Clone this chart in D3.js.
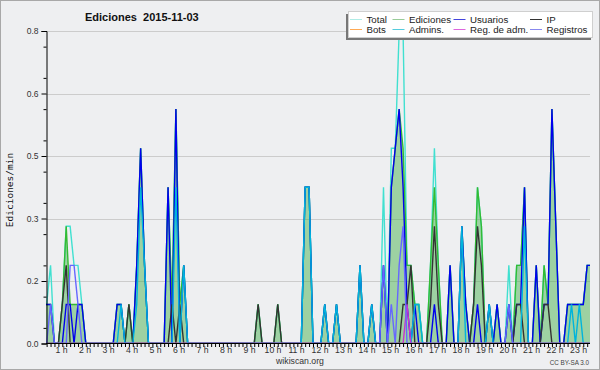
<!DOCTYPE html>
<html lang="es">
<head>
<meta charset="utf-8">
<title>Ediciones 2015-11-03</title>
<script src="https://d3js.org/d3.v7.min.js"></script>
<style>
	body { margin: 0; background: #eeeff1; }
	svg { display: block; }
	text { font-family: "Liberation Sans", Arial, sans-serif; }
</style>
</head>
<body>
<script>
// valores por tramo de 10 minutos (ediciones/min), 144 tramos = 24 h
var total = [
	0,.1,.1,.2,0,0,.1,.3,.3,.2,.2,.1,
	0,0,0,0,0,0,0,0,.1,.1,0,.1,
	0,.2,.5,.2,0,0,0,0,0,.4,.1,.6,
	.1,.2,0,0,0,0,0,0,0,0,0,0,
	0,0,0,0,0,0,0,0,.1,0,0,0,
	0,.1,0,0,0,0,0,0,.4,.4,0,0,
	0,.1,0,0,.1,0,0,0,0,0,.2,0,
	0,.1,0,0,.4,0,.5,.5,.8,.8,.2,.2,
	.1,.1,0,0,.2,.5,.2,0,0,.2,0,0,
	.3,.1,0,.1,.4,.3,0,.1,0,.1,0,0,
	.2,0,.2,.2,.4,0,0,.2,0,.2,.1,.6,
	.3,0,0,.1,.1,.1,.1,.1,.2,.2,0,0
];
var ediciones = [
	0,.1,.1,.1,0,0,.1,.3,.1,.1,.1,.1,
	0,0,0,0,0,0,0,0,.1,.1,0,.1,
	0,.2,.5,.2,0,0,0,0,0,.4,.1,.6,
	.1,.2,0,0,0,0,0,0,0,0,0,0,
	0,0,0,0,0,0,0,0,.1,0,0,0,
	0,.1,0,0,0,0,0,0,.4,.4,0,0,
	0,.1,0,0,.1,0,0,0,0,0,.2,0,
	0,.1,0,0,.2,0,.4,.5,.6,.5,.2,.2,
	.1,.1,0,0,.2,.4,.2,0,0,.2,0,0,
	.3,.1,0,.1,.4,.3,0,.1,0,.1,0,0,
	.1,0,.2,.2,.4,0,0,.2,0,.2,.1,.6,
	.3,0,0,.1,.1,.1,.1,.1,.2,.2,0,0
];
var usuarios = [
	0,.1,.1,.1,0,0,0,.1,.1,0,.1,.1,
	0,0,0,0,0,0,0,0,.1,.1,0,0,
	0,.2,.5,.2,0,0,0,0,0,.4,0,.6,
	0,.2,0,0,0,0,0,0,0,0,0,0,
	0,0,0,0,0,0,0,0,0,0,0,0,
	0,0,0,0,0,0,0,0,.4,.4,0,0,
	0,.1,0,0,.1,0,0,0,0,0,.2,0,
	0,.1,0,0,.2,0,.4,.5,.6,.4,.1,0,
	.1,0,0,0,0,.1,0,0,0,.2,0,0,
	.3,.1,0,0,.1,0,0,.1,0,.1,0,0,
	.1,0,.1,.1,.4,0,0,.2,0,.1,.1,.6,
	.3,0,0,.1,.1,.1,.1,.1,.2,.2,0,0
];
var ip = [
	0,0,0,0,0,0,.1,.2,0,0,0,0,
	0,0,0,0,0,0,0,0,0,0,0,.1,
	0,0,0,0,0,0,0,0,0,0,.1,0,
	.1,0,0,0,0,0,0,0,0,0,0,0,
	0,0,0,0,0,0,0,0,.1,0,0,0,
	0,.1,0,0,0,0,0,0,0,0,0,0,
	0,0,0,0,0,0,0,0,0,0,0,0,
	0,0,0,0,0,0,0,0,0,.1,.1,.2,
	0,0,0,0,.1,.3,.1,0,0,0,0,0,
	0,0,0,.1,.3,.2,0,0,0,0,0,0,
	0,0,.1,.1,0,0,0,0,0,.1,.1,0,
	0,0,0,0,0,0,0,0,0,0,0,0
];
var bots = [
	0,0,0,0,0,0,0,0,0,0,0,0,
	0,0,0,0,0,0,0,0,0,0,0,0,
	0,0,0,0,0,0,0,0,0,0,0,0,
	0,0,0,0,0,0,0,0,0,0,0,0,
	0,0,0,0,0,0,0,0,0,0,0,0,
	0,0,0,0,0,0,0,0,0,0,0,0,
	0,0,0,0,0,0,0,0,0,0,0,0,
	0,0,0,0,0,0,0,0,0,0,0,0,
	0,0,0,0,0,0,0,0,0,0,0,0,
	0,0,0,0,0,0,0,0,0,0,0,0,
	0,0,0,0,0,0,0,0,0,0,0,0,
	0,0,0,0,0,0,0,0,0,0,0,0
];
var admins = [
	0,0,0,0,0,0,0,0,0,0,0,0,
	0,0,0,0,0,0,0,0,0,.1,0,0,
	0,.1,.4,.2,0,0,0,0,0,0,0,.4,
	0,.2,0,0,0,0,0,0,0,0,0,0,
	0,0,0,0,0,0,0,0,0,0,0,0,
	0,0,0,0,0,0,0,0,.4,.4,0,0,
	0,.1,0,0,.1,0,0,0,0,0,.2,0,
	0,.1,0,0,0,0,0,0,0,0,0,0,
	.1,.1,0,0,0,0,0,0,0,0,0,0,
	.3,0,0,0,0,0,0,.1,0,0,0,0,
	0,0,0,0,.3,0,0,0,0,0,0,0,
	0,0,0,0,.1,0,.1,0,0,0,0,0
];
var regAdm = [
	0,0,0,0,0,0,0,0,0,0,0,0,
	0,0,0,0,0,0,0,0,0,0,0,0,
	0,0,0,0,0,0,0,0,0,0,0,0,
	0,0,0,0,0,0,0,0,0,0,0,0,
	0,0,0,0,0,0,0,0,0,0,0,0,
	0,0,0,0,0,0,0,0,0,0,0,0,
	0,0,0,0,0,0,0,0,0,0,0,0,
	0,0,0,0,0,0,0,0,0,0,.1,0,
	0,0,0,0,0,0,0,0,0,0,0,0,
	0,0,0,0,0,0,0,0,0,0,0,0,
	0,0,0,0,0,0,0,0,0,0,0,0,
	0,0,0,0,0,0,0,0,0,0,0,0
];
var registros = [
	0,0,0,.1,0,0,0,0,.2,.2,.1,0,
	0,0,0,0,0,0,0,0,0,0,0,0,
	0,0,0,0,0,0,0,0,0,0,0,0,
	0,0,0,0,0,0,0,0,0,0,0,0,
	0,0,0,0,0,0,0,0,0,0,0,0,
	0,0,0,0,0,0,0,0,0,0,0,0,
	0,0,0,0,0,0,0,0,0,0,0,0,
	0,0,0,0,.2,0,.1,0,.2,.3,0,0,
	0,0,0,0,0,0,0,0,0,0,0,0,
	0,0,0,0,0,0,0,0,0,0,0,0,
	.1,0,0,0,0,0,0,0,0,0,0,0,
	0,0,0,0,0,0,0,0,0,0,0,0
];

var seriesNames = ["Total", "Ediciones", "Usuarios", "IP", "Bots", "Admins.", "Reg. de adm.", "Registros"];
var seriesValues = [total, ediciones, usuarios, ip, bots, admins, regAdm, registros];
var lineColors = ["#40e0d0", "#33bb33", "#0000ee", "#333333", "#ff9900", "#00b4dc", "#cc33cc", "#6666ff"];
var legendColors = ["#b0ece6", "#99cc99", "#4444dd", "#333333", "#ffaa55", "#55ccdd", "#dd66dd", "#8888ee"];
var yTicks = [0, 0.16, 0.32, 0.48, 0.64, 0.8];
var hours = [1,2,3,4,5,6,7,8,9,10,11,12,13,14,15,16,17,18,19,20,21,22,23];

var w = 600;
var h = 370;
var plotL = 46, plotR = 590, plotT = 31, plotB = 343.5;
var slotMin = 10;

var svg = d3.select("body")
			.append("svg")
			.attr("width", w)
			.attr("height", h);

//fondo y borde
svg.append("rect")
   .attr("x", 0.5).attr("y", 0.5)
   .attr("width", w - 1).attr("height", h - 1)
   .attr("fill", "#eeeff1")
   .attr("stroke", "#a8a8a8");

var x = d3.scaleLinear().domain([0, 1440]).range([38.8, 38.8 + 3.917 * 144]);
var y = d3.scaleLinear().domain([0, 0.8]).range([plotB, plotT]);

//lineas de la rejilla
svg.selectAll(".grid")
   .data(yTicks.slice(1))
   .enter()
   .append("line")
   .attr("x1", plotL).attr("x2", plotR)
   .attr("y1", function(d) { return Math.round(y(d)) + 0.5; })
   .attr("y2", function(d) { return Math.round(y(d)) + 0.5; })
   .attr("stroke", "#cccccc");

svg.append("clipPath")
   .attr("id", "plot")
   .append("rect")
   .attr("x", plotL).attr("y", plotT - 2)
   .attr("width", plotR - plotL).attr("height", plotB - plotT + 2);

var g = svg.append("g").attr("clip-path", "url(#plot)");

var area = d3.area()
			 .x(function(d, i) { return x(i * slotMin); })
			 .y0(y(0))
			 .y1(function(d) { return y(d); });

var line = d3.line()
			 .x(function(d, i) { return x(i * slotMin); })
			 .y(function(d) { return y(d); });

g.append("path")
 .attr("d", area(ediciones))
 .attr("fill", "#44b04c")
 .attr("fill-opacity", 0.48);

g.selectAll(".serie")
 .data(seriesValues)
 .enter()
 .append("path")
 .attr("d", function(d) { return line(d); })
 .attr("fill", "none")
 .attr("stroke", function(d, i) { return lineColors[i]; })
 .attr("stroke-width", 1.4);

//eje y
var yAxis = d3.axisLeft(y)
			  .tickValues(yTicks)
			  .tickSize(5)
			  .tickFormat(d3.format(".1f"));
var gy = svg.append("g")
			.attr("transform", "translate(" + (plotL + 0.5) + ",0)")
			.call(yAxis);
gy.selectAll("text").attr("font-size", "8.5px").attr("fill", "#333").attr("font-family", "Liberation Sans");
gy.select(".domain").attr("stroke", "#000");

var yMinor = d3.axisLeft(y)
			   .tickValues(d3.range(0.04, 0.8, 0.08))
			   .tickSize(3)
			   .tickFormat("");
svg.append("g")
   .attr("transform", "translate(" + (plotL + 0.5) + ",0)")
   .call(yMinor)
   .select(".domain").remove();

//eje x
var xAxis = d3.axisBottom(x)
			  .tickValues(d3.range(20, 1410, 10))
			  .tickSize(3.5)
			  .tickFormat("");
var gx = svg.append("g")
			.attr("transform", "translate(0," + plotB + ")")
			.call(xAxis);
gx.select(".domain").remove();
svg.append("line")
   .attr("x1", plotL).attr("x2", plotR)
   .attr("y1", plotB).attr("y2", plotB)
   .attr("stroke", "#000")
   .attr("stroke-width", 1.2);

svg.selectAll(".hour")
   .data(hours)
   .enter()
   .append("text")
   .attr("x", function(d) { return x(d * 60) - 0.8; })
   .attr("y", 352.5)
   .attr("text-anchor", "middle")
   .attr("font-size", "8.7px")
   .attr("fill", "#333")
   .text(function(d) { return d + " h"; });

//titulo y textos
svg.append("text")
   .attr("x", 85).attr("y", 20.7)
   .attr("font-family", "DejaVu Sans")
   .attr("font-weight", "bold")
   .attr("font-size", "11px")
   .attr("fill", "#111")
   .attr("xml:space", "preserve")
   .style("white-space", "pre")
   .text("Ediciones  2015-11-03");

svg.append("text")
   .attr("transform", "translate(13,190) rotate(-90)")
   .attr("text-anchor", "middle")
   .style("font-family", "'DejaVu Sans Mono', monospace")
   .attr("font-size", "9.5px")
   .attr("fill", "#111")
   .text("Ediciones/min");

svg.append("text")
   .attr("x", 300).attr("y", 363.5)
   .attr("text-anchor", "middle")
   .attr("font-size", "8.7px")
   .attr("fill", "#333")
   .text("wikiscan.org");

svg.append("text")
   .attr("x", 589).attr("y", 364.5)
   .attr("text-anchor", "end")
   .attr("font-size", "6.3px")
   .attr("fill", "#444")
   .text("CC BY-SA 3.0");

//leyenda
var legend = svg.append("g");
legend.append("rect")
	  .attr("x", 346).attr("y", 14)
	  .attr("width", 245).attr("height", 26)
	  .attr("fill", "#777");
legend.append("rect")
	  .attr("x", 348.5).attr("y", 11.5)
	  .attr("width", 244).attr("height", 26)
	  .attr("fill", "#fff")
	  .attr("stroke", "#cfcfcf");

var legendCols = [350, 392.5, 453.5, 530];
var items = legend.selectAll(".item")
				  .data(seriesNames)
				  .enter()
				  .append("g")
				  .attr("transform", function(d, i) {
						return "translate(" + legendCols[i % 4] + "," + (i < 4 ? 19 : 29) + ")";
				  });
items.append("line")
	 .attr("x1", 0).attr("x2", 12)
	 .attr("y1", 0.5).attr("y2", 0.5)
	 .attr("stroke", function(d, i) { return legendColors[i]; })
	 .attr("stroke-width", 1);
items.append("text")
	 .attr("x", 16.5).attr("y", 3.5)
	 .attr("font-size", "9.7px")
	 .attr("fill", "#222")
	 .text(function(d) { return d; });
</script>
</body>
</html>
